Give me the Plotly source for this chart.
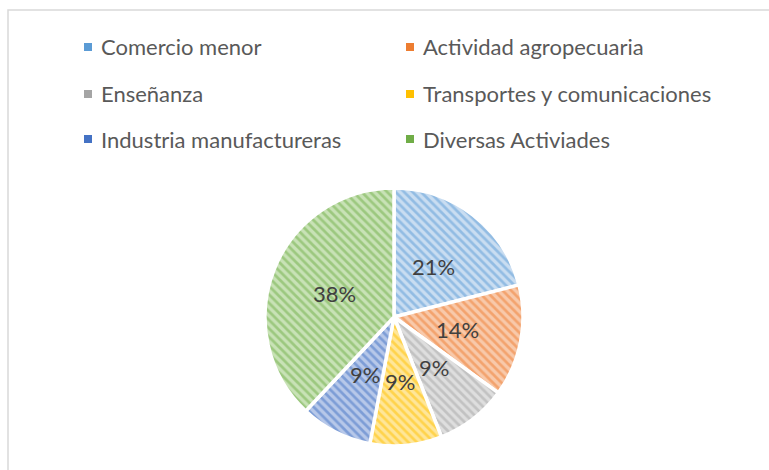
import math
import plotly.graph_objects as go

# Sector shares (percent)
sectors = [
    "Comercio menor",
    "Actividad agropecuaria",
    "Enseñanza",
    "Transportes y comunicaciones",
    "Industria manufactureras",
    "Diversas Activiades",
]
shares = [21, 14, 9, 9, 9, 38]

# Office-style palette: stripe colour and lighter backing tint
stripe_colors = ["#5B9BD5", "#ED7D31", "#A5A5A5", "#FFC000", "#4472C4", "#70AD47"]
tint_colors = ["#C9DDF1", "#F8C9AA", "#DEDEDE", "#FFE699", "#B7C8E9", "#C8E2B6"]

W, H = 769, 470
fig = go.Figure()

# Pie centre and radius in pixels, converted to a paper-domain box
cx, cy, r = 394, 317, 129
fig.add_trace(go.Pie(
    labels=sectors,
    values=shares,
    sort=False,
    direction="clockwise",
    rotation=0,
    textinfo="none",
    marker=dict(
        colors=tint_colors,
        line=dict(color="white", width=3.5),
        pattern=dict(shape="\\", fgcolor=stripe_colors, bgcolor=tint_colors,
                     size=6, solidity=0.45, fillmode="overlay"),
    ),
    domain=dict(x=[(cx - r) / W, (cx + r) / W],
                y=[(H - cy - r) / H, (H - cy + r) / H]),
    showlegend=False,
    hoverinfo="label+percent",
))

annotations = []

# Percentage labels at half radius along each slice's mid-angle
total = sum(shares)
start = 0.0
for v in shares:
    mid = (start + v / 2) / total * 2 * math.pi
    start += v
    lx = cx + 0.5 * r * math.sin(mid)
    ly = cy - 0.5 * r * math.cos(mid)
    annotations.append(dict(text=f"{round(100 * v / total)}%", xref="paper", yref="paper",
                            x=lx / W, y=(H - ly) / H, xanchor="center", yanchor="middle",
                            showarrow=False,
                            font=dict(family="Lato", size=22, color="#404040")))

# Two-column legend with small square keys
shapes = [dict(type="rect", xref="paper", yref="paper",
               x0=8 / W, x1=1.05, y0=-0.05, y1=(H - 10) / H,
               line=dict(color="#D9D9D9", width=1.5), fillcolor="rgba(0,0,0,0)")]
col_x = [84, 406]
row_y = [47, 94, 139]
for i, (name, col) in enumerate(zip(sectors, stripe_colors)):
    x = col_x[i % 2]
    y = row_y[i // 2]
    shapes.append(dict(type="rect", xref="paper", yref="paper",
                       x0=x / W, x1=(x + 8) / W,
                       y0=(H - y - 4) / H, y1=(H - y + 4) / H,
                       line=dict(width=0), fillcolor=col))
    annotations.append(dict(text=name, xref="paper", yref="paper",
                            x=(x + 15) / W, y=(H - y) / H,
                            xanchor="left", yanchor="middle", showarrow=False,
                            font=dict(family="Lato", size=22, color="#595959")))

fig.update_layout(
    width=W, height=H,
    margin=dict(l=0, r=0, t=0, b=0),
    paper_bgcolor="white",
    plot_bgcolor="white",
    shapes=shapes,
    annotations=annotations,
)

fig.write_html("out.html")
